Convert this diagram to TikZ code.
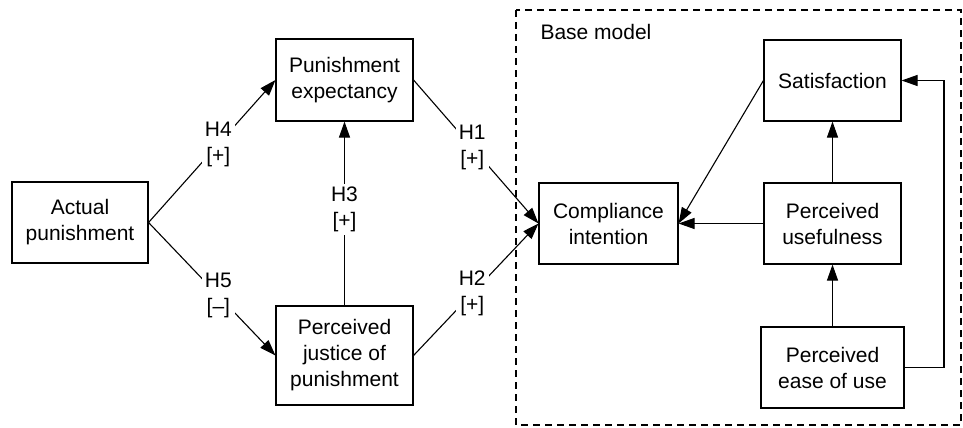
\documentclass[tikz,border=0pt]{standalone}
\usepackage{fontspec}
\setmainfont{Liberation Sans}
\usetikzlibrary{arrows.meta}
\begin{document}
\begin{tikzpicture}[x=1pt,y=-1pt,
  box/.style={draw,line width=1.1pt,align=center,inner sep=0pt,font=\fontsize{21}{26}\selectfont},
  lab/.style={fill=white,align=center,inner sep=3pt,font=\fontsize{21}{26}\selectfont},
  arr/.style={line width=1.1pt,-{Triangle[length=16pt,width=11pt]}},
  ln/.style={line width=1.1pt}]
\useasboundingbox (0,0) rectangle (963,428);
\draw[line width=1.5pt,dash pattern=on 7pt off 5pt] (516,10) rectangle (961,425);
\node[anchor=base west,font=\fontsize{21}{26}\selectfont] (bm) at (537,40) {Base model};
\node[box,minimum width=136pt,minimum height=81pt] (ap) at (80,222.5) {Actual\\punishment};
\node[box,minimum width=137pt,minimum height=82pt] (pe) at (344.5,80) {Punishment\\expectancy};
\node[box,minimum width=137pt,minimum height=99pt] (pj) at (344.5,355.5) {Perceived\\justice of\\punishment};
\node[box,minimum width=139pt,minimum height=81pt] (ci) at (608.5,223.5) {Compliance\\intention};
\node[box,minimum width=137pt,minimum height=81pt] (sat) at (832.5,80.5) {Satisfaction};
\node[box,minimum width=137pt,minimum height=81pt] (pu) at (832.5,223.5) {Perceived\\usefulness};
\node[box,minimum width=143pt,minimum height=81pt] (peou) at (832.5,367.5) {Perceived\\ease of use};
\coordinate (rt) at (944,367.5);
\coordinate (rb) at (944,80.5);
\draw[arr] (ap.east) -- node[lab,pos=0.55] (h4) {H4\\{[+]}} (pe.west);
\draw[arr] (ap.east) -- node[lab,pos=0.55] (h5) {H5\\{[–]}} (pj.west);
\draw[arr] (pj.north) -- node[lab,pos=0.52] (h3) {H3\\{[+]}} (pe.south);
\draw[arr] (pe.east) -- node[lab,pos=0.47] (h1) {H1\\{[+]}} (ci.west);
\draw[arr] (pj.east) -- node[lab,pos=0.47] (h2) {H2\\{[+]}} (ci.west);
\draw[arr] (sat.west) -- (ci.east);
\draw[arr] (pu.west) -- (ci.east);
\draw[arr] (pu.north) -- (sat.south);
\draw[arr] (peou.north) -- (pu.south);
\draw[arr] (peou.east) -- (rt) -- (rb) -- (sat.east);
\end{tikzpicture}
\end{document}
